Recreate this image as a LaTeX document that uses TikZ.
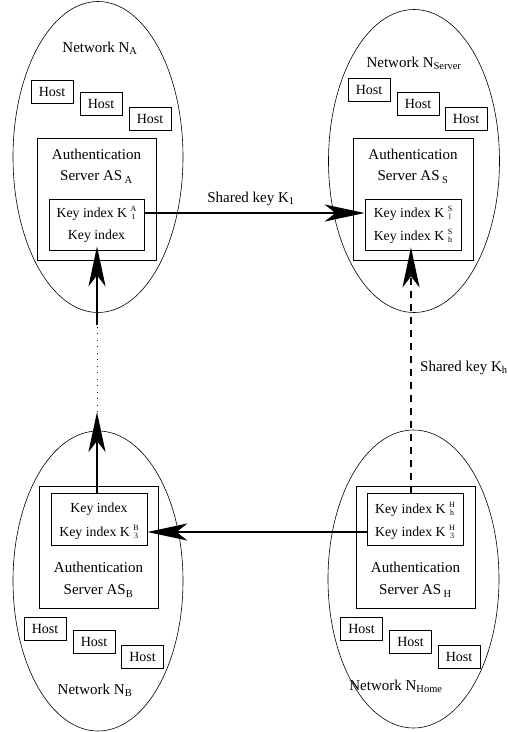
\documentclass[tikz,border=0pt]{standalone}
\usepackage{fontspec}
\setmainfont{Liberation Serif}
\usetikzlibrary{arrows.meta,shapes.geometric}

% stacked super/subscript after a key symbol, e.g. K with A over 1
\newcommand\keyst[2]{\hspace{3.5pt}\raisebox{-2.5pt}{\fontsize{8}{7.5}\selectfont\shortstack{#1\\#2}}}

\tikzset{
  net/.style={draw, ellipse, line width=0.6pt, inner sep=0pt},
  host/.style={draw, line width=0.7pt, minimum width=42pt, minimum height=23pt, inner sep=0pt, font=\fontsize{14}{14}\selectfont},
  server/.style={draw, line width=0.7pt, minimum width=119pt, minimum height=122pt, inner sep=0pt},
  keybox/.style={draw, line width=0.7pt, minimum width=96pt, minimum height=52pt, inner sep=0pt},
  keyrow/.style={inner sep=0pt, font=\fontsize{13.8}{14}\selectfont},
  lbl/.style={inner sep=0pt, font=\fontsize{15}{15}\selectfont},
  link/.style={line width=2.5pt, -{Stealth[length=40pt, width=17pt, inset=11pt]}},
}

\begin{document}
\begin{tikzpicture}[x=1pt, y=-1pt]
\useasboundingbox (0,0) rectangle (507,732);

% ---------- Network A (top left) ----------
\node[net, minimum width=170pt, minimum height=311pt] (netA) at (98,157) {};
\node[lbl] (labA) at (100,48) {Network N\textsubscript{A}};
\node[host] (hA1) at (52,92) {Host};
\node[host] (hA2) at (101,104) {Host};
\node[host] (hA3) at (150,119) {Host};
\node[server] (sA) at (96.5,199) {};
\node[lbl] (sA1) at (96.5,154) {Authentication};
\node[lbl] (sA2) at (96.5,177) {Server AS\,\textsubscript{A}};
\node[keybox, minimum width=95pt, minimum height=51pt] (kA) at (96.5,224.5) {};
\node[keyrow] (kA1) at (96.5,213) {Key index K\keyst{A}{1}};
\node[keyrow] (kA2) at (96.5,236) {Key index};

% ---------- Network Server (top right) ----------
\node[net, minimum width=171pt, minimum height=303pt] (netS) at (414,161) {};
\node[lbl] (labS) at (414,63) {Network N\textsubscript{Server}};
\node[host] (hS1) at (369,90) {Host};
\node[host] (hS2) at (418,104) {Host};
\node[host] (hS3) at (466,119) {Host};
\node[server, minimum width=120pt] (sS) at (413,199) {};
\node[lbl] (sS1) at (413,154) {Authentication};
\node[lbl] (sS2) at (413,177) {Server AS\,\textsubscript{S}};
\node[keybox, minimum height=51pt] (kS) at (413,224.5) {};
\node[keyrow] (kS1) at (413,213) {Key index K\keyst{S}{l}};
\node[keyrow] (kS2) at (413,236) {Key index K\keyst{S}{h}};

% ---------- Network B (bottom left) ----------
\node[net, minimum width=170pt, minimum height=300pt] (netB) at (98,581) {};
\node[server] (sB) at (98.5,547) {};
\node[keybox] (kB) at (99,519) {};
\node[keyrow] (kB1) at (99,509) {Key index};
\node[keyrow] (kB2) at (99,532) {Key index K\keyst{B}{3}};
\node[lbl] (sB1) at (98.5,567) {Authentication};
\node[lbl] (sB2) at (98.5,591) {Server AS\textsubscript{B}};
\node[host] (hB1) at (45,629) {Host};
\node[host] (hB2) at (94,642) {Host};
\node[host] (hB3) at (142.5,657) {Host};
\node[lbl] (labB) at (95,690) {Network N\textsubscript{B}};

% ---------- Network Home (bottom right) ----------
\node[net, minimum width=171pt, minimum height=298pt] (netH) at (413.5,579) {};
\node[server] (sH) at (415.5,547) {};
\node[keybox] (kH) at (415,519) {};
\node[keyrow] (kH1) at (415,509) {Key index K\keyst{H}{h}};
\node[keyrow] (kH2) at (415,532) {Key index K\keyst{H}{3}};
\node[lbl] (sH1) at (415.5,567) {Authentication};
\node[lbl] (sH2) at (415.5,591) {Server AS\,\textsubscript{H}};
\node[host] (hH1) at (361.5,629) {Host};
\node[host] (hH2) at (410.5,642) {Host};
\node[host] (hH3) at (459,657) {Host};
\node[lbl] (labH) at (396,686) {Network N\textsubscript{Home}};

% ---------- key sharing links ----------
\draw[link] (kA1 -| kA.east) -- (kA1 -| kS.west);
\node[lbl] (shared1) at (251,199) {Shared key K\textsubscript{1}};

\draw[link, dash pattern=on 7pt off 6pt, shorten >=-3pt] (kH.north -| 411,0) -- (kS.south -| 411,0);
\node[lbl, anchor=west] (sharedh) at (420,368) {Shared key K\textsubscript{h}};

\draw[link] (kH2 -| kH.west) -- (kH2 -| kB.east);

\coordinate (dotlo) at (97,412);
\coordinate (dothi) at (97,325);
\draw[link] (kB.north -| dotlo) -- (dotlo);
\draw[line width=1pt, dash pattern=on 1pt off 5.5pt] (dotlo) -- (dothi);
\draw[link, shorten >=-4pt] (dothi) -- (dothi |- kA.south);
\end{tikzpicture}
\end{document}
